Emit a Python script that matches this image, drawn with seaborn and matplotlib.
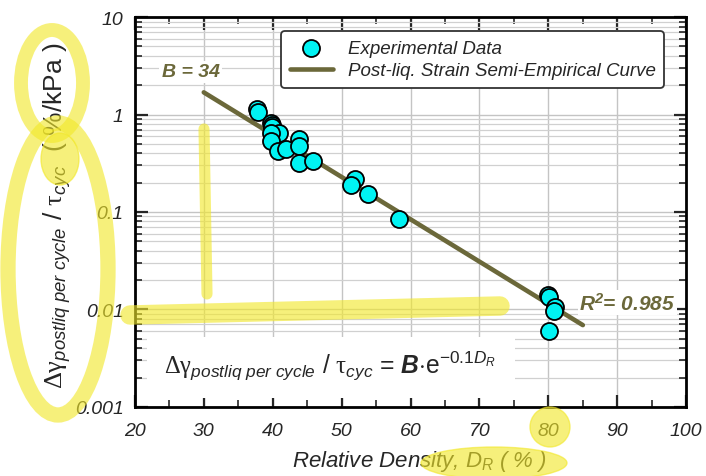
import matplotlib
matplotlib.use('Agg')
import matplotlib.pyplot as plt
import seaborn as sns
from matplotlib.ticker import MultipleLocator, NullFormatter
from matplotlib.patches import Ellipse, Rectangle
from matplotlib.lines import Line2D

# values
dr = [37.7, 37.8, 39.8, 39.9, 39.9, 40.9, 39.7, 39.8, 40.8, 41.9,
      43.8, 43.8, 43.8, 45.8, 52.0, 51.4, 53.9, 58.3,
      80.0, 80.1, 80.9, 80.8, 80.1]
strain = [1.15, 1.05, 0.81, 0.78, 0.74, 0.64, 0.64, 0.54, 0.42, 0.44,
          0.56, 0.475, 0.32, 0.333, 0.22, 0.19, 0.152, 0.085,
          0.014, 0.0135, 0.0105, 0.0097, 0.006]
curve_dr = [30, 85]
curve_val = [1.69, 0.0069]
x_ticks = [20, 30, 40, 50, 60, 70, 80, 90, 100]
y_ticks = [0.001, 0.01, 0.1, 1, 10]
y_ticklabels = ['0.001', '0.01', '0.1', '1', '10']

sns.set_style('ticks')
plt.rcParams['font.family'] = ['Liberation Sans', 'DejaVu Sans']
plt.rcParams['mathtext.fontset'] = 'custom'
plt.rcParams['mathtext.rm'] = 'Liberation Sans'
plt.rcParams['mathtext.it'] = 'Liberation Sans:italic'
plt.rcParams['mathtext.bf'] = 'Liberation Sans:bold:italic'
plt.rcParams['mathtext.cal'] = 'Liberation Serif'

olive = '#6b683a'

fig = plt.figure(figsize=(7.06, 4.77), dpi=100)
ax = fig.add_axes([0.191, 0.145, 0.781, 0.817])

sns.lineplot(x=curve_dr, y=curve_val, color=olive, lw=3.3, ax=ax,
             label='Post-liq. Strain Semi-Empirical Curve', zorder=2)
sns.scatterplot(x=dr, y=strain, s=150, color='#00f3f3', edgecolor='black',
                linewidth=1.3, ax=ax, label='Experimental Data', zorder=3)

ax.set_yscale('log')
ax.set_xlim(20, 100)
ax.set_ylim(0.001, 10)
ax.set_xticks(x_ticks)
ax.xaxis.set_minor_locator(MultipleLocator(5))
ax.set_yticks(y_ticks, labels=y_ticklabels)
ax.yaxis.set_minor_formatter(NullFormatter())
ax.grid(which='major', axis='both', color='#c4c4c4', lw=1)
ax.grid(which='minor', axis='y', color='#d0d0d0', lw=0.9)
ax.tick_params(which='both', direction='in', top=True, right=True, labelsize=14)
ax.tick_params(axis='x', pad=11)
ax.tick_params(axis='y', pad=8)
ax.tick_params(which='major', length=9, width=1.6)
ax.tick_params(which='minor', length=5, width=1.2)
for lbl in ax.get_xticklabels() + ax.get_yticklabels():
    lbl.set_style('italic')
for sp in ax.spines.values():
    sp.set_color('black')
    sp.set_linewidth(2)

ax.set_xlabel(r'Relative Density, $D_R$ ( % )', fontsize=16, style='italic')
ax.xaxis.set_label_coords(0.517, -0.105)
ax.set_ylabel(r'$\mathcal{\Delta\gamma}_{postliq\ per\ cycle}\ /\ \mathcal{\tau}_{cyc}$  ( %/kPa )',
              fontsize=19)
ax.yaxis.set_label_coords(-0.112, 0.493)

h, l = ax.get_legend_handles_labels()
leg = ax.legend(h[::-1], l[::-1], loc='upper right', bbox_to_anchor=(0.96, 0.964),
                prop={'style': 'italic', 'size': 13.5}, frameon=True, fancybox=True,
                framealpha=1, edgecolor='#333333', handlelength=2.3, borderpad=0.45,
                labelspacing=0.3, borderaxespad=0)
leg.get_frame().set_linewidth(1.3)

ax.text(28.1, 2.75, 'B = 34', color=olive, fontsize=14, fontweight='bold', style='italic',
        ha='center', va='center', zorder=4,
        bbox=dict(facecolor='white', edgecolor='none', pad=2))
ax.text(91.5, 0.0118, r'R$^{\mathbf{2}}$= 0.985', color=olive, fontsize=15, fontweight='bold',
        style='italic', ha='center', va='center', zorder=4,
        bbox=dict(facecolor='white', edgecolor='none', pad=1))

# white box behind the equation, leaving the bottom ticks visible
ax.add_patch(Rectangle((21.7, 0.023), 53.5, 0.157, transform=ax.get_xaxis_transform(),
                       facecolor='white', edgecolor='none', zorder=1.8))
ax.text(0.354, 0.105,
        r'$\mathcal{\Delta\gamma}_{postliq\ per\ cycle}\ /\ \mathcal{\tau}_{cyc}$ = $\mathbf{B}{\cdot}\mathrm{e}^{\mathit{-0.1}D_R}$',
        transform=ax.transAxes, fontsize=17.7, ha='center', va='center', zorder=4)

# yellow highlighter marks drawn over the picture
hl = '#f2e82a'
W, H = 706, 477


def fx(x):
    return x / W


def fy(y):
    return 1 - y / H


def ring(cx, cy, w, h, lw, fill=False):
    e = Ellipse((fx(cx), fy(cy)), w / W, h / H, transform=fig.transFigure,
                facecolor=hl if fill else 'none', edgecolor=hl, lw=lw, alpha=0.62, zorder=10)
    fig.add_artist(e)


def stroke(x0, y0, x1, y1, lw):
    ln = Line2D([fx(x0), fx(x1)], [fy(y0), fy(y1)], transform=fig.transFigure,
                color=hl, lw=lw, alpha=0.62, solid_capstyle='round', zorder=10)
    fig.add_artist(ln)


ring(58, 270, 100, 292, 11)
ring(52, 84, 62, 106, 10)
ring(60, 160, 38, 52, 1, fill=True)
stroke(130, 316, 500, 307, 14)
stroke(204, 130, 207, 295, 8)
ring(550, 428, 40, 40, 1, fill=True)
ring(494, 464, 146, 32, 1, fill=True)

fig.savefig('out.png', dpi=100)
